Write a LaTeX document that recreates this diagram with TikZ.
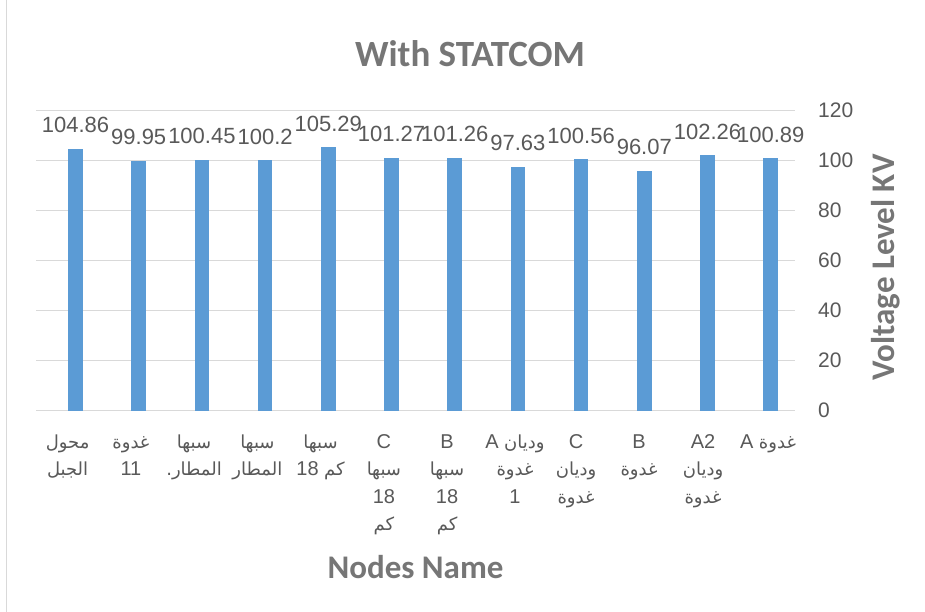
\documentclass[tikz,border=0pt]{standalone}
\usepackage{fontspec}
\setmainfont{Liberation Sans}
\newfontfamily\titlefont{Carlito}
\newfontfamily\arabicfont[Script=Arabic]{DejaVu Sans}
\TeXXeTstate=1
\newcommand\arx[1]{{\arabicfont\fontsize{18}{22}\selectfont\beginR #1\endR}}
\definecolor{barblue}{HTML}{5B9BD5}
\definecolor{gridgray}{HTML}{D9D9D9}
\definecolor{labelgray}{HTML}{595959}
\definecolor{titlegray}{HTML}{767676}
\tikzset{
  gridline/.style={draw=gridgray, line width=1.2pt},
  barfill/.style={fill=barblue},
  vlabel/.style={text=labelgray, font=\fontsize{22}{26}\selectfont, anchor=base, inner sep=0pt},
  ticklabel/.style={text=labelgray, font=\fontsize{21}{25}\selectfont, anchor=west, inner sep=0pt},
  catline/.style={text=labelgray, font=\fontsize{20}{24}\selectfont, anchor=base, inner sep=0pt},
  charttitle/.style={text=titlegray, font=\titlefont\bfseries\fontsize{37}{41}\selectfont, anchor=base, inner sep=0pt},
  axistitle/.style={text=titlegray, font=\titlefont\bfseries\fontsize{33}{38}\selectfont, anchor=base, inner sep=0pt},
}
\begin{document}
\begin{tikzpicture}[x=1pt,y=-1pt]
\useasboundingbox (0,0) rectangle (925,612);
\fill[white] (0,0) rectangle (925,612);
\draw[gridgray, line width=1.3pt] (6.5,0) -- (6.5,612);
% gridlines and tick labels
\foreach \k [evaluate=\k as \val using int(20*\k)] in {0,...,6} {
  \draw[gridline] (36,410.7-50*\k) -- (795,410.7-50*\k);
  \node[ticklabel] (t\k) at (818,410.7-50*\k) {\val};
}
% bars and data labels
\foreach \v [count=\i from 0] in {104.86,99.95,100.45,100.2,105.29,101.27,101.26,97.63,100.56,96.07,102.26,100.89} {
  \pgfmathsetmacro\bx{75.5+63.2*\i}
  \pgfmathsetmacro\by{410.7-2.5*\v}
  \fill[barfill] (\bx-7.25,410.7) rectangle (\bx+7.25,\by);
  \node[vlabel] (v\i) at (\bx,\by-16) {\v};
}
% category labels
\def\La{448}\def\Lb{475.5}\def\Lc{503}\def\Ld{530.5}
\node[catline] (c1a) at (67.6,\La) {\arx{محول}};
\node[catline] (c1b) at (67.6,\Lb) {\arx{الجبل}};
\node[catline] (c2a) at (130.9,\La) {\arx{غدوة}};
\node[catline] (c2b) at (130.9,\Lb) {11};
\node[catline] (c3a) at (194.1,\La) {\arx{سبها}};
\node[catline] (c3b) at (194.1,\Lb) {\arx{المطار.}};
\node[catline] (c4a) at (257.4,\La) {\arx{سبها}};
\node[catline] (c4b) at (257.4,\Lb) {\arx{المطار}};
\node[catline] (c5a) at (320.6,\La) {\arx{سبها}};
\node[catline] (c5b) at (320.6,\Lb) {18 \arx{كم}};
\node[catline] (c6a) at (383.9,\La) {C};
\node[catline] (c6b) at (383.9,\Lb) {\arx{سبها}};
\node[catline] (c6c) at (383.9,\Lc) {18};
\node[catline] (c6d) at (383.9,\Ld) {\arx{كم}};
\node[catline] (c7a) at (447.1,\La) {B};
\node[catline] (c7b) at (447.1,\Lb) {\arx{سبها}};
\node[catline] (c7c) at (447.1,\Lc) {18};
\node[catline] (c7d) at (447.1,\Ld) {\arx{كم}};
\node[catline] (c8a) at (515,\La) {A \arx{وديان}};
\node[catline] (c8b) at (515,\Lb) {\arx{غدوة}};
\node[catline] (c8c) at (515,\Lc) {1};
\node[catline] (c9a) at (576,\La) {C};
\node[catline] (c9b) at (576,\Lb) {\arx{وديان}};
\node[catline] (c9c) at (576,\Lc) {\arx{غدوة}};
\node[catline] (c10a) at (639,\La) {B};
\node[catline] (c10b) at (639,\Lb) {\arx{غدوة}};
\node[catline] (c11a) at (703,\La) {A2};
\node[catline] (c11b) at (703,\Lb) {\arx{وديان}};
\node[catline] (c11c) at (703,\Lc) {\arx{غدوة}};
\node[catline] (c12a) at (768,\La) {A \arx{غدوة}};
% titles
\node[charttitle] (title) at (470,66.7) {With STATCOM};
\node[axistitle] (xtitle) at (415.5,578) {Nodes Name};
\node[axistitle, rotate=90] (ytitle) at (894,267.5) {Voltage Level KV};
\end{tikzpicture}
\end{document}
